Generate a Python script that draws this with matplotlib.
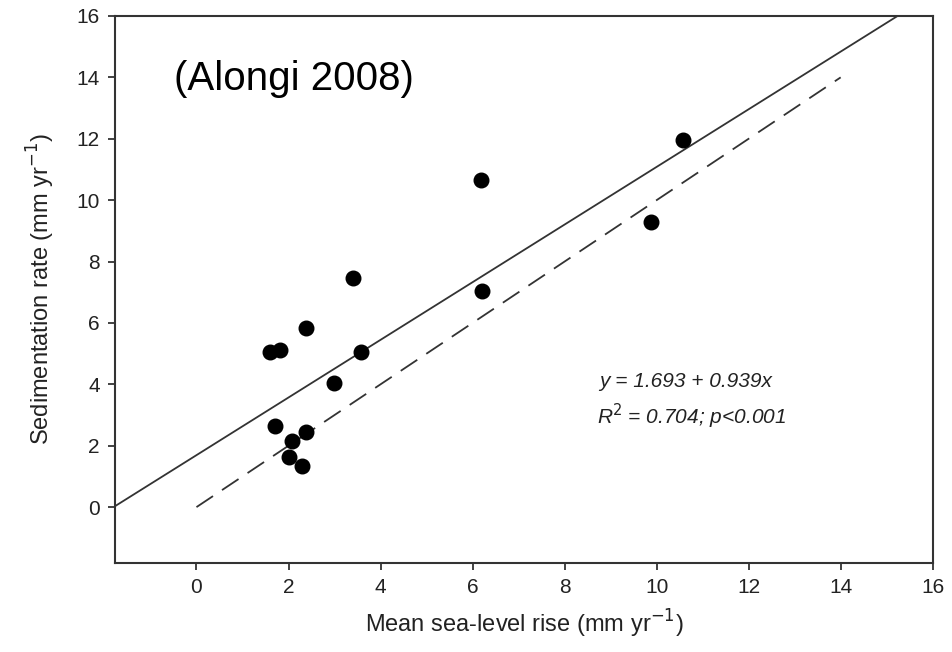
import matplotlib
matplotlib.use("Agg")
import matplotlib.pyplot as plt
import numpy as np

plt.rcParams["font.family"] = ["Liberation Sans", "DejaVu Sans"]

# Data (mm/yr)
sea_level_rise = [1.59, 1.81, 2.39, 3.40, 3.58, 2.98, 1.70, 2.38, 2.08, 2.00, 2.29,
                  6.18, 6.20, 9.87, 10.58]
sedimentation = [5.06, 5.13, 5.85, 7.45, 5.06, 4.05, 2.64, 2.45, 2.15, 1.63, 1.34,
                 10.66, 7.05, 9.28, 11.96]

intercept = 1.693
slope = 0.939
fit_x = [-1.77, 15.24]
one_to_one = [0, 14]

x_ticks = [0, 2, 4, 6, 8, 10, 12, 14, 16]
y_ticks = [0, 2, 4, 6, 8, 10, 12, 14, 16]

fig = plt.figure(figsize=(9.53, 6.52), dpi=100)
ax = fig.add_axes([0.1207, 0.137, 0.858, 0.8385])

line_col = "#333333"
fx = np.array(fit_x)
ax.plot(fx, intercept + slope * fx, color=line_col, lw=1.3)
ax.plot(one_to_one, one_to_one, color=line_col, lw=1.3, dashes=(11, 6))
ax.scatter(sea_level_rise, sedimentation, s=110, color="black", zorder=3)

ax.set_xlim(-1.77, 16)
ax.set_ylim(-1.81, 16)
ax.set_xticks(x_ticks)
ax.set_yticks(y_ticks)
ax.tick_params(direction="out", length=5, width=1.2, labelsize=15,
               colors="#222222", pad=6)
for s in ax.spines.values():
    s.set_linewidth(1.5)
    s.set_color("#333333")

ax.set_xlabel("Mean sea-level rise (mm yr$^{-1}$)", fontsize=17, color="#222222",
              labelpad=8)
ax.set_ylabel("Sedimentation rate (mm yr$^{-1}$)", fontsize=17, color="#222222",
              labelpad=14)

ax.text(0.072, 0.885, "(Alongi 2008)", transform=ax.transAxes, fontsize=29,
        va="center", ha="left")
ax.text(0.592, 0.332, "y = 1.693 + 0.939x", transform=ax.transAxes, fontsize=15,
        style="italic", ha="left", va="center", color="#222222")
ax.text(0.59, 0.268, "R$^2$ = 0.704; p<0.001", transform=ax.transAxes,
        fontsize=15, style="italic", ha="left", va="center", color="#222222")

fig.savefig("out.png", dpi=100)
